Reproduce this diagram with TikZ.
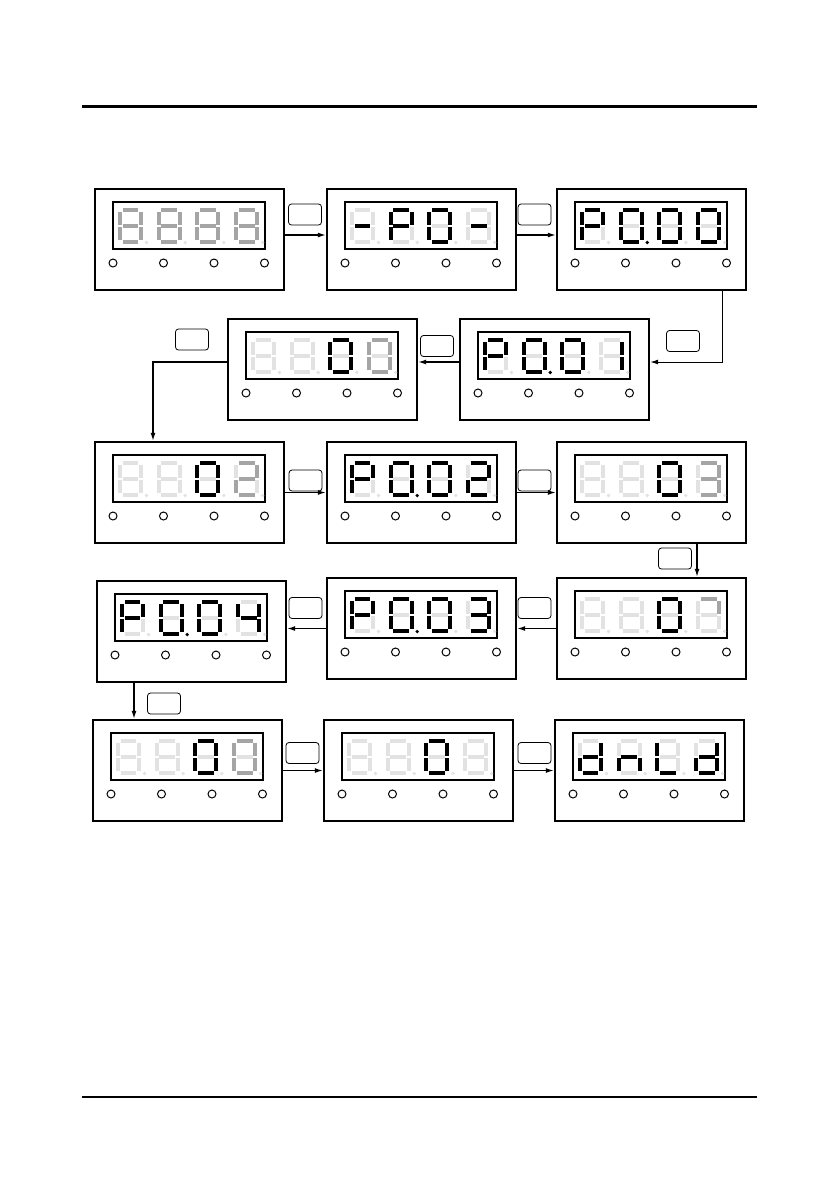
\documentclass[tikz,border=0pt]{standalone}
\usetikzlibrary{arrows.meta,calc}
\definecolor{segM}{RGB}{165,165,165}
\definecolor{segL}{RGB}{226,226,226}
\tikzset{
 sK/.style={fill=black}, sM/.style={fill=segM}, sL/.style={fill=segL},
 panel/.style={draw, line width=2.4pt, minimum width=189pt, minimum height=101pt, inner sep=0pt},
 disp/.style={draw, line width=1.3pt, minimum width=152pt, minimum height=47pt, inner sep=0pt},
 led/.style={draw, line width=1pt},
 key/.style={draw, line width=0.8pt, rounded corners=3pt, minimum width=33pt, minimum height=21pt, inner sep=0pt},
 arr/.style={line width=1.3pt, -{Latex[length=8pt,width=5pt]}},
}
\def\sevdraw#1#2#3#4#5#6#7#8\relax{%
 \fill[s#1] (4.6,0) rectangle (20.4,3.8);
 \fill[s#2] (21,4.2) rectangle (25,16.8);
 \fill[s#3] (21,19.2) rectangle (25,31.8);
 \fill[s#4] (4.6,32.2) rectangle (20.4,36);
 \fill[s#5] (0,19.2) rectangle (4,31.8);
 \fill[s#6] (0,4.2) rectangle (4,16.8);
 \fill[s#7] (4.6,16.2) rectangle (20.4,19.8);
 \fill[s#8] (28.5,34.5) circle (1.8pt);}
\newcommand\segdigit[3]{\begin{scope}[shift={(#1,#2)}]\sevdraw#3\relax\end{scope}}
\newcommand\dpanel[7]{%
 \node[panel] (#1) at ({#2+94.5},{#3+50.5}) {};
 \begin{scope}[shift={(#2,#3)}]
  \node[disp] (#1d) at (94,36.5) {};
  \foreach \k in {0,1,2,3} \draw[led] ({18+50.5*\k},74) circle (4pt);
  \segdigit{23}{19}{#4}
  \segdigit{61.7}{19}{#5}
  \segdigit{100.4}{19}{#6}
  \segdigit{139.1}{19}{#7}
 \end{scope}}
\begin{document}
\begin{tikzpicture}[x=1pt,y=-1pt]
\useasboundingbox[fill=white] (0,0) rectangle (839,1191);
\draw[line width=3pt] (82,106) -- (757,106);
\draw[line width=1.3pt] (82,1097) -- (757,1097);

\dpanel{q1}{95}{189}{MMMMMMML}{MMMMMMML}{MMMMMMML}{MMMMMMML}
\dpanel{q2}{327}{189}{LLLLLLKL}{KKLLKKKL}{KKKKKKLL}{LLLLLLKL}
\dpanel{q3}{557}{189}{KKLLKKKL}{KKKKKKLK}{KKKKKKLL}{KKKKKKLL}
\dpanel{q4}{460}{319}{KKLLKKKL}{KKKKKKLK}{KKKKKKLL}{LKKLLLLL}
\dpanel{q5}{228}{319}{LLLLLLLL}{LLLLLLLL}{KKKKKKLL}{MMMMMMLL}
\dpanel{q6}{95}{442}{LLLLLLLL}{LLLLLLLL}{KKKKKKLL}{MMLMMLML}
\dpanel{q7}{327}{442}{KKLLKKKL}{KKKKKKLK}{KKKKKKLL}{KKLKKLKL}
\dpanel{q8}{557}{442}{LLLLLLLL}{LLLLLLLL}{KKKKKKLL}{MMMMLLML}
\dpanel{q9}{557}{578}{LLLLLLLL}{LLLLLLLL}{KKKKKKLL}{MMLLLLLL}
\dpanel{q10}{327}{578}{KKLLKKKL}{KKKKKKLK}{KKKKKKLL}{KKKKLLKL}
\dpanel{q11}{97}{581}{KKLLKKKL}{KKKKKKLK}{KKKKKKLL}{LKKLLKKL}
\dpanel{q12}{93}{720}{LLLLLLLL}{LLLLLLLL}{KKKKKKLL}{MMMMMMLL}
\dpanel{q13}{324}{720}{LLLLLLLL}{LLLLLLLL}{KKKKKKLL}{LLLLLLLL}
\dpanel{q14}{555}{720}{LKKKKLKL}{LLKLKLKL}{LLLKKKLL}{LKKKKLKL}

% keys
\node[key] (k1) at (305,214.5) {};
\node[key] (k2) at (534.5,214.5) {};
\node[key] (k3) at (683,341) {};
\node[key] (k4) at (437,346) {};
\node[key] (k5) at (192,339.5) {};
\node[key] (k6) at (305.5,480.5) {};
\node[key] (k7) at (534.5,480.5) {};
\node[key] (k8) at (675,558.5) {};
\node[key] (k9) at (534.5,608) {};
\node[key] (k10) at (305.5,608) {};
\node[key] (k11) at (164,703.5) {};
\node[key] (k12) at (302.5,753) {};
\node[key] (k13) at (534.5,753) {};

% connectors
\coordinate (c1) at ([yshift=4.5pt]q1.east);
\draw[arr] (c1) -- (c1 -| q2.west);
\coordinate (c2) at ([yshift=4.5pt]q2.east);
\draw[arr] (c2) -- (c2 -| q3.west);
\coordinate (c3) at ([xshift=70.5pt]q3.south);
\coordinate (c3b) at ([yshift=7.5pt]q4.east);
\draw[arr,line width=1pt] (c3) |- (c3b);
\coordinate (c4) at ([yshift=7.5pt]q4.west);
\draw[arr] (c4) -- (c4 -| q5.east);
\coordinate (c5) at ([yshift=7.5pt]q5.west);
\coordinate (c5b) at ([xshift=-36.5pt]q6.north);
\draw[arr] (c5) -| (c5b);
\draw[arr] (q6.east) -- (q7.west);
\draw[arr] (q7.east) -- (q8.west);
\coordinate (c8) at ([xshift=45.5pt]q8.south);
\draw[arr] (c8) -- (c8 |- q9.north);
\draw[arr] (q9.west) -- (q9.west -| q10.east);
\draw[arr] (q10.west) -- (q10.west -| q11.east);
\coordinate (c11) at ([xshift=-57.5pt]q11.south);
\draw[arr] (c11) -- (c11 |- q12.north);
\draw[arr] (q12.east) -- (q13.west);
\draw[arr] (q13.east) -- (q14.west);
\end{tikzpicture}
\end{document}
